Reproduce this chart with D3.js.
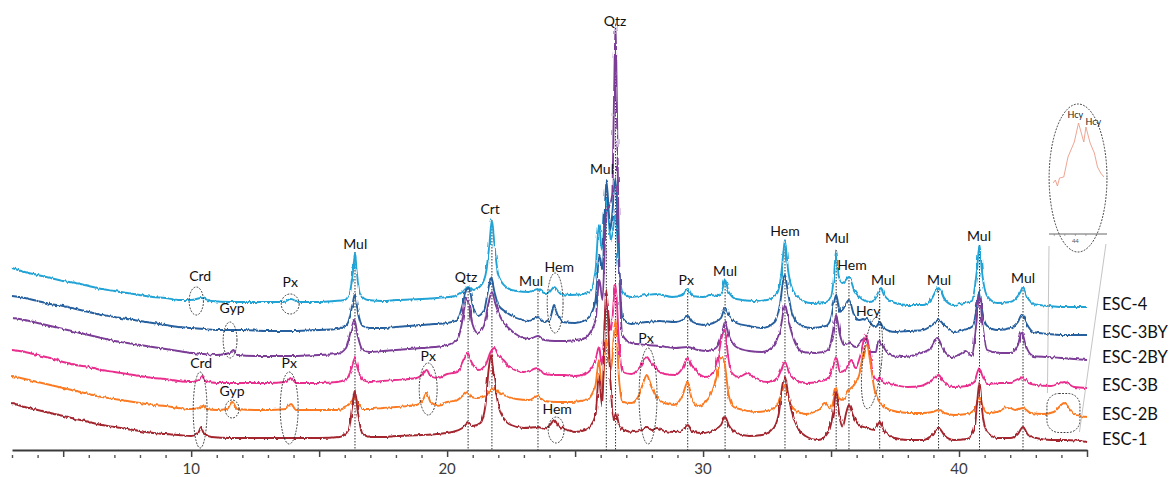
<!DOCTYPE html>
<html><head><meta charset="utf-8">
<script src="https://cdn.jsdelivr.net/npm/d3@7"></script>
<style>body{margin:0;background:#fff}svg{display:block}</style>
</head><body>
<svg id="c" width="1170" height="477"></svg>
<script>
// ---- data: 2-theta (deg) vs stacked intensity (a.u.) ----
const esc4 = [[3,182],[3.5,178],[4,175],[4.5,172],[5,169],[5.5,167],[6,164],[6.5,161],[7,159],[7.5,157],[8,155],[8.5,153],[9,152],[9.5,150],[10,150],[10.4,152],[10.8,149],[11.5,148],[12,148],[13,148],[13.6,148],[13.9,151],[14.2,148],[15,148],[15.6,149],[16,150],[16.2,158],[16.33,180],[16.4,197],[16.47,178],[16.6,156],[16.9,150],[17.5,149],[18,150],[19,151],[19.6,152],[20.3,154],[20.6,158],[20.82,163],[21,160],[21.3,164],[21.5,175],[21.65,205],[21.75,230],[21.85,205],[22,175],[22.3,163],[22.7,159],[23.2,158],[23.55,161],[23.8,157],[24,158],[24.18,163],[24.4,157],[24.8,155],[25.3,156],[25.6,159],[25.8,180],[25.93,225],[26.05,200],[26.22,252],[26.4,210],[26.58,235],[26.72,180],[26.85,158],[27.2,153],[27.8,155],[28.2,156],[28.8,153],[29.2,155],[29.4,161],[29.6,154],[30,153],[30.3,155],[30.6,154],[30.75,160],[30.86,170],[31,158],[31.3,151],[32,149],[32.5,150],[32.9,157],[33.05,175],[33.13,195],[33.2,210],[33.27,193],[33.35,175],[33.5,160],[33.8,151],[34.2,147],[34.8,148],[35,154],[35.12,175],[35.2,200],[35.3,174],[35.45,167],[35.7,173],[35.9,160],[36.2,151],[36.5,148],[36.7,150],[36.85,158],[36.95,162],[37.1,154],[37.5,147],[38,145],[38.6,145],[38.9,150],[39.2,162],[39.45,150],[39.8,145],[40.2,147],[40.5,149],[40.7,180],[40.8,205],[40.9,178],[41.1,154],[41.5,147],[42,148],[42.2,151],[42.4,158],[42.5,163],[42.65,154],[42.9,146],[43.5,144],[44,143],[44.5,143],[45,143]];
const esc3BY = [[3,154],[3.5,152],[4,149],[4.5,146],[5,144],[5.5,141],[6,138],[6.5,135],[7,133],[7.5,131],[8,129],[8.5,127],[9,125],[9.5,123],[10,122],[10.5,121],[11,120],[12,120],[13,119],[14,119],[15,120],[15.7,121],[16.1,126],[16.3,145],[16.4,156],[16.5,140],[16.7,124],[17,122],[17.5,122],[18,123],[19,125],[19.5,126],[20,127],[20.4,130],[20.6,145],[20.75,160],[20.85,162],[21,145],[21.2,134],[21.45,140],[21.6,160],[21.72,172],[21.85,158],[22,145],[22.3,138],[22.7,132],[23.2,129],[23.55,133],[23.8,128],[24,130],[24.1,138],[24.18,144],[24.3,136],[24.5,128],[25,127],[25.4,130],[25.6,135],[25.8,150],[25.95,195],[26.07,180],[26.22,270],[26.38,220],[26.58,272],[26.72,180],[26.85,132],[27.2,126],[27.8,128],[28.3,129],[28.9,128],[29.2,130],[29.4,134],[29.6,128],[30,125],[30.4,127],[30.7,132],[30.86,142],[31,135],[31.3,127],[31.8,124],[32.3,122],[32.8,128],[33,145],[33.15,172],[33.2,175],[33.3,160],[33.5,135],[33.8,125],[34.2,122],[34.8,124],[35,132],[35.1,145],[35.2,155],[35.35,138],[35.5,142],[35.7,150],[35.9,135],[36.1,130],[36.4,132],[36.6,125],[36.75,123],[36.9,128],[37.05,122],[37.5,118],[38,119],[38.6,120],[38.95,125],[39.2,130],[39.45,124],[39.8,118],[40.2,120],[40.55,124],[40.7,145],[40.8,160],[40.9,140],[41.1,124],[41.5,120],[42,122],[42.3,128],[42.45,135],[42.6,128],[42.9,118],[43.5,116],[44,115],[44.5,115],[45,115]];
const esc2BY = [[3,132],[3.5,130],[4,127],[4.5,124],[5,121],[5.5,118],[6,115],[6.5,112],[7,109],[7.5,107],[8,105],[8.5,103],[9,101],[9.5,99],[10,97],[10.5,96],[11,95],[11.5,97],[11.65,100],[11.8,95],[12.5,94],[13,94],[14,94],[15,95],[15.7,96],[16.05,102],[16.25,120],[16.38,130],[16.5,115],[16.7,100],[17,98],[17.5,99],[18,100],[19,102],[19.5,103],[20,105],[20.4,110],[20.6,130],[20.75,152],[20.85,145],[21,125],[21.2,117],[21.45,125],[21.6,145],[21.75,158],[21.9,145],[22.1,132],[22.4,122],[22.8,114],[23.2,111],[23.55,114],[23.8,110],[24.2,109],[24.6,109],[25,110],[25.4,112],[25.6,118],[25.8,130],[25.95,170],[26.07,150],[26.22,240],[26.35,245],[26.45,255],[26.52,350],[26.58,426],[26.63,350],[26.7,220],[26.85,115],[27.2,107],[27.8,105],[28.3,104],[28.9,102],[29.4,103],[29.8,100],[30.2,99],[30.5,102],[30.7,112],[30.86,128],[31,115],[31.3,103],[31.8,99],[32.3,98],[32.8,105],[33.05,125],[33.2,145],[33.35,128],[33.6,107],[33.9,98],[34.4,97],[34.9,100],[35.05,115],[35.2,135],[35.35,115],[35.5,105],[35.7,107],[35.95,103],[36.2,110],[36.35,112],[36.55,98],[36.75,98],[36.85,110],[37,105],[37.3,95],[37.8,93],[38.4,96],[38.9,102],[39.15,112],[39.4,100],[39.7,93],[40.05,96],[40.25,99],[40.5,94],[40.65,120],[40.8,155],[40.92,125],[41.1,100],[41.6,97],[42,97],[42.3,105],[42.45,118],[42.6,105],[42.9,94],[43.5,93],[44,92],[44.5,91],[45,90]];
const esc3B = [[3,100],[3.5,98],[4,95],[4.5,92],[5,88],[5.5,85],[6,83],[6.5,80],[7,78],[7.5,76],[8,74],[8.5,72],[9,71],[9.5,69],[10,68],[10.3,70],[10.45,74],[10.6,69],[11,67],[12,67],[13,67],[13.7,68],[13.9,72],[14.1,67],[15,67],[15.7,68],[16.1,72],[16.3,85],[16.4,92],[16.5,82],[16.7,70],[17,68],[17.5,69],[18,70],[18.8,72],[19.05,76],[19.2,80],[19.35,74],[19.6,72],[20,76],[20.4,78],[20.6,88],[20.8,97],[20.95,88],[21.2,80],[21.5,85],[21.7,98],[21.85,102],[22,95],[22.2,90],[22.5,82],[23,78],[23.55,82],[23.8,76],[24.2,75],[24.6,75],[25,74],[25.4,76],[25.6,80],[25.8,90],[25.93,103],[26.05,85],[26.22,150],[26.4,120],[26.58,165],[26.72,105],[26.85,78],[27.2,76],[27.5,82],[27.7,90],[27.8,93],[27.95,88],[28.2,80],[28.5,76],[28.9,75],[29.2,82],[29.4,92],[29.55,85],[29.8,77],[30.1,73],[30.4,78],[30.6,95],[30.75,115],[30.86,120],[30.95,100],[31.1,78],[31.4,73],[31.75,77],[32,72],[32.5,68],[32.9,72],[33.05,80],[33.2,88],[33.35,78],[33.6,70],[34,67],[34.5,68],[34.9,72],[35.05,80],[35.2,93],[35.35,78],[35.55,80],[35.8,90],[35.95,82],[36.15,95],[36.35,115],[36.5,100],[36.65,75],[36.8,70],[36.9,72],[37.05,68],[37.5,65],[38,63],[38.5,64],[38.95,70],[39.2,75],[39.4,68],[39.8,63],[40.3,64],[40.6,68],[40.72,78],[40.8,82],[40.9,75],[41.1,66],[41.6,67],[42,67],[42.3,70],[42.5,73],[42.7,67],[43,65],[43.6,64],[44.1,68],[44.5,63],[45,62]];
const esc2B = [[3,74],[3.5,71],[4,68],[4.5,65],[5,62],[5.5,59],[6,56],[6.5,53],[7,51],[7.5,49],[8,47],[8.5,45],[9,44],[9.5,42],[10,41],[10.3,42],[10.45,45],[10.6,41],[11,40],[11.4,41],[11.6,48],[11.8,41],[12.5,40],[13,40],[13.7,41],[13.9,46],[14.1,40],[15,40],[15.7,40],[16.1,44],[16.3,50],[16.4,53],[16.5,48],[16.7,41],[17,41],[17.5,42],[18,43],[18.8,45],[19.05,50],[19.2,57],[19.35,48],[19.6,45],[20,48],[20.4,50],[20.6,54],[20.8,58],[20.95,53],[21.2,52],[21.5,54],[21.7,60],[21.85,62],[22,58],[22.3,54],[22.7,51],[23.2,50],[23.55,54],[23.8,49],[24.3,48],[24.8,48],[25.2,49],[25.5,51],[25.7,58],[25.8,65],[25.93,90],[26.05,60],[26.22,110],[26.4,80],[26.58,130],[26.72,70],[26.85,48],[27.2,47],[27.5,55],[27.7,70],[27.8,75],[27.95,65],[28.2,52],[28.5,47],[28.9,45],[29.2,55],[29.4,68],[29.55,52],[29.8,44],[30.1,48],[30.35,58],[30.55,75],[30.72,93],[30.85,85],[31,55],[31.2,43],[31.6,40],[32.1,38],[32.6,40],[32.9,45],[33.05,55],[33.2,65],[33.35,50],[33.6,40],[34,36],[34.5,40],[34.75,47],[35,42],[35.1,50],[35.2,62],[35.3,52],[35.45,50],[35.7,60],[35.9,65],[36.1,75],[36.25,95],[36.4,105],[36.55,85],[36.7,60],[36.85,50],[37,45],[37.3,40],[38,37],[38.6,37],[38.95,38],[39.2,40],[39.45,37],[39.8,35],[40.3,36],[40.6,40],[40.72,48],[40.8,53],[40.9,45],[41.1,37],[41.5,38],[41.9,43],[42.2,40],[42.5,42],[42.8,37],[43.3,36],[43.7,38],[43.95,44],[44.1,47],[44.3,42],[44.5,36],[45,33]];
const esc1 = [[3,47],[3.5,43],[4,40],[4.5,37],[5,34],[5.5,31],[6,28],[6.5,25],[7,23],[7.5,21],[8,19],[8.5,17],[9,16],[9.5,15],[10,14],[10.25,16],[10.4,23],[10.55,16],[10.8,13],[11.5,12],[12,12],[13,12],[14,12],[15,12],[15.8,13],[16.15,20],[16.3,45],[16.4,60],[16.5,40],[16.7,16],[17,13],[17.5,13],[18,14],[19,15],[19.6,16],[20.2,18],[20.6,22],[20.82,27],[21,24],[21.3,27],[21.5,45],[21.62,80],[21.72,95],[21.82,75],[22,45],[22.2,32],[22.5,25],[23,22],[23.55,23],[23.8,21],[24.05,26],[24.18,30],[24.35,24],[24.7,20],[25,18],[25.4,20],[25.6,24],[25.8,35],[25.93,75],[26.05,45],[26.22,160],[26.38,70],[26.5,30],[26.6,37],[26.72,25],[26.9,20],[27.3,18],[27.6,20],[27.8,23],[28,20],[28.2,22],[28.5,19],[28.9,18],[29.2,20],[29.4,25],[29.6,18],[30,17],[30.4,20],[30.7,25],[30.86,33],[31,25],[31.3,17],[31.8,14],[32.3,15],[32.7,20],[32.95,35],[33.1,65],[33.2,73],[33.3,60],[33.45,40],[33.7,22],[34,14],[34.5,10],[34.9,18],[35.1,40],[35.2,58],[35.32,35],[35.45,23],[35.6,38],[35.7,45],[35.85,35],[36.1,25],[36.4,22],[36.7,20],[36.9,28],[37.1,18],[37.5,12],[38,10],[38.6,10],[38.95,15],[39.2,22],[39.45,14],[39.8,10],[40.3,11],[40.6,20],[40.7,45],[40.8,68],[40.9,40],[41.1,18],[41.5,12],[42,12],[42.3,16],[42.5,23],[42.7,15],[43,12],[43.6,10],[44.2,10],[45,8]];

const seriesNames = ["ESC-4","ESC-3BY","ESC-2BY","ESC-3B","ESC-2B","ESC-1"];
const seriesData = [esc4, esc3BY, esc2BY, esc3B, esc2B, esc1];

const majorTicks = [5,10,15,20,25,30,35,40,45];
const minorTicks = [3,4,6,7,8,9,11,12,13,14,16,17,18,19,21,22,23,24,26,27,28,29,31,32,33,34,36,37,38,39,41,42,43,44];
const tickLabels = [10,20,30,40];

// reference (dotted) lines: [2theta, top intensity]
const refLines = [[16.4,198],[20.82,162],[21.75,230],[23.55,160],[26.22,268],[26.58,422],[29.4,160],[30.86,170],[33.2,210],[35.2,200],[35.7,173],[36.9,162],[39.2,162],[40.8,205],[42.5,163]];
// phase labels: [text, 2theta, intensity]
const phaseLabels = [["Crd",10.35,173],["Px",13.87,167],["Gyp",11.6,141],["Crd",10.39,86],["Gyp",11.6,58],["Px",13.83,86],["Mul",16.41,205],["Px",19.26,93],["Qtz",20.74,172],["Crt",21.68,240],["Mul",23.28,168],["Hem",24.38,182],["Hem",24.3,40],["Mul",26.05,280],["Qtz",26.56,428],["Px",27.77,111],["Px",29.34,169],["Mul",30.86,178],["Hem",33.2,218],["Mul",35.23,211],["Hem",35.82,184],["Hcy",36.45,138],["Mul",37.03,169],["Mul",39.22,169],["Mul",40.78,213],["Mul",42.5,171]];
// dotted ellipses: [2theta, intensity, half-width (deg), half-height (a.u.), tilt]
const ellipses = [[10.2,149,0.28,14,0],[13.87,146,0.35,10,0],[11.52,110,0.27,18,0],[10.35,40,0.27,38,0],[11.6,41,0.27,9,0],[13.83,42,0.35,36,0],[19.26,61,0.35,26,0],[24.22,147,0.31,30,0],[24.26,20,0.31,13,0],[27.85,54,0.35,48,0],[36.6,87,0.37,46,6]];
// inset (zoom of ESC-2B near 44 deg)
const insetPattern = [[43.79,51],[43.81,54],[43.83,48],[43.85,56],[43.89,57],[43.93,77],[43.99,92],[44.03,111],[44.08,92],[44.10,107],[44.14,91],[44.18,81],[44.21,67],[44.24,61],[44.27,57]];
const insetTicks = [43.8,43.9,44.0,44.1,44.2];
const insetLabels = [["Hcy",44.0,118],["Hcy",44.17,111]];

// ---- drawing ----
const colors = ["#23a3d6","#27609f","#7b3d97","#ea2f8d","#fb7a22","#a3262f"];
const svg = d3.select("#c");
const defs = svg.append("defs");
const f = defs.append("filter").attr("id","grain").attr("filterUnits","userSpaceOnUse")
  .attr("x",0).attr("y",0).attr("width",1170).attr("height",477);
f.append("feTurbulence").attr("type","fractalNoise").attr("baseFrequency","0.45 0.08").attr("numOctaves",2).attr("seed",3).attr("result","n");
f.append("feDisplacementMap").attr("in","SourceGraphic").attr("in2","n").attr("scale",3.2)
  .attr("xChannelSelector","R").attr("yChannelSelector","G");

svg.append("rect").attr("width",1170).attr("height",477).attr("fill","#fff");
const x = d3.scaleLinear().domain([3,45]).range([12,1087]);
const y = d3.scaleLinear().domain([0,440]).range([450,10]);
const font = "Lato, 'Open Sans', sans-serif";

// reference lines
svg.append("g").selectAll("line").data(refLines).join("line")
  .attr("x1",d=>x(d[0])).attr("x2",d=>x(d[0]))
  .attr("y1",d=>y(d[1])).attr("y2",y(0))
  .attr("stroke","#1a1a1a").attr("stroke-width",0.9).attr("stroke-dasharray","1.5,1.5");

// patterns
const line = d3.line().x(d=>x(d[0])).y(d=>y(d[1])).curve(d3.curveMonotoneX);
svg.append("g").attr("filter","url(#grain)").selectAll("path").data(seriesData).join("path")
  .attr("d",line).attr("fill","none")
  .attr("stroke",(d,i)=>colors[i]).attr("stroke-width",1.9).attr("stroke-linejoin","round");

// series names
svg.append("g").selectAll("text").data(seriesData).join("text")
  .attr("x",1102).attr("y",d=>y(d[d.length-1][1])-1)
  .attr("dominant-baseline","middle")
  .attr("font-family",font).attr("font-size",16.5).attr("fill","#111")
  .text((d,i)=>seriesNames[i]);

// axis
const ax = svg.append("g").attr("transform",`translate(0,${y(0)})`);
ax.call(d3.axisBottom(x).tickValues(majorTicks).tickSize(7).tickSizeOuter(0).tickFormat(""));
ax.select(".domain").attr("stroke","#3a3a3a").attr("stroke-width",2);
ax.selectAll(".tick line").attr("stroke","#444").attr("stroke-width",1.5);
ax.selectAll(".tick text").remove();
const axm = svg.append("g").attr("transform",`translate(0,${y(0)})`);
axm.call(d3.axisBottom(x).tickValues(minorTicks).tickSize(8).tickSizeOuter(0).tickFormat(""));
axm.select(".domain").remove();
axm.selectAll(".tick line").attr("stroke","#555").attr("stroke-width",1.4).attr("stroke-dasharray","0,5,3");
axm.selectAll(".tick text").remove();
svg.append("g").selectAll("text").data(tickLabels).join("text")
  .attr("x",d=>x(d)).attr("y",y(0)+20).attr("text-anchor","middle").attr("dominant-baseline","middle")
  .attr("font-family",font).attr("font-size",15).attr("fill","#3c3c3c").text(d=>d);

// ellipses
svg.append("g").selectAll("ellipse").data(ellipses).join("ellipse")
  .attr("cx",d=>x(d[0])).attr("cy",d=>y(d[1]))
  .attr("rx",d=>x(d[0]+d[2])-x(d[0])).attr("ry",d=>y(0)-y(d[3]))
  .attr("transform",d=>d[4]?`rotate(${d[4]},${x(d[0])},${y(d[1])})`:null)
  .attr("fill","none").attr("stroke","#222").attr("stroke-width",0.9).attr("stroke-dasharray","1.8,1.4");

// phase labels
svg.append("g").selectAll("text").data(phaseLabels).join("text")
  .attr("x",d=>x(d[1])).attr("y",d=>y(d[2]))
  .attr("text-anchor","middle").attr("dominant-baseline","middle")
  .attr("font-family",font).attr("font-size",14).attr("fill","#111")
  .text(d=>d[0]);

// rounded box around ESC-2B peak
const boxC = [44.08, 37];
svg.append("rect").attr("x",x(boxC[0])-16.5).attr("y",y(boxC[1])-19.5).attr("width",33).attr("height",39).attr("rx",12)
  .attr("fill","none").attr("stroke","#222").attr("stroke-width",0.9).attr("stroke-dasharray","1.8,1.4");

// inset
const ix = d3.scaleLinear().domain([43.75,44.3]).range([1049,1107]);
const iy = d3.scaleLinear().domain([0,120]).range([234,114]);
const inset = svg.append("g");
inset.append("ellipse").attr("cx",x(44.65)).attr("cy",y(272)).attr("rx",x(44.65+1.13)-x(44.65)).attr("ry",74)
  .attr("fill","none").attr("stroke","#222").attr("stroke-width",0.9).attr("stroke-dasharray","1.8,1.4");
inset.append("line").attr("x1",ix(43.75)).attr("x2",ix(44.3)).attr("y1",iy(0)).attr("y2",iy(0)).attr("stroke","#555").attr("stroke-width",0.9);
inset.selectAll("line.t").data(insetTicks).join("line").attr("class","t")
  .attr("x1",d=>ix(d)).attr("x2",d=>ix(d)).attr("y1",iy(0)).attr("y2",iy(0)+2).attr("stroke","#777").attr("stroke-width",0.6);
inset.append("text").attr("x",ix(44.0)).attr("y",iy(0)+9).attr("text-anchor","middle").attr("font-family",font).attr("font-size",6).attr("fill","#555").text("44");
inset.append("path").datum(insetPattern)
  .attr("d",d3.line().x(d=>ix(d[0])).y(d=>iy(d[1])))
  .attr("fill","none").attr("stroke","#ec9a86").attr("stroke-width",0.9);
inset.selectAll("text.h").data(insetLabels).join("text").attr("class","h")
  .attr("x",d=>ix(d[1])).attr("y",d=>iy(d[2])).attr("text-anchor","middle").attr("dominant-baseline","middle")
  .attr("font-family",font).attr("font-size",9).attr("fill","#222").text(d=>d[0]);
// connector lines
inset.append("line").attr("x1",ix(43.75)).attr("y1",iy(-12)).attr("x2",x(boxC[0])-16).attr("y2",y(boxC[1])-20).attr("stroke","#aaa").attr("stroke-width",0.7);
inset.append("line").attr("x1",ix(44.29)).attr("y1",iy(-10)).attr("x2",x(boxC[0])+16).attr("y2",y(boxC[1])+19).attr("stroke","#aaa").attr("stroke-width",0.7);
</script>
</body></html>
